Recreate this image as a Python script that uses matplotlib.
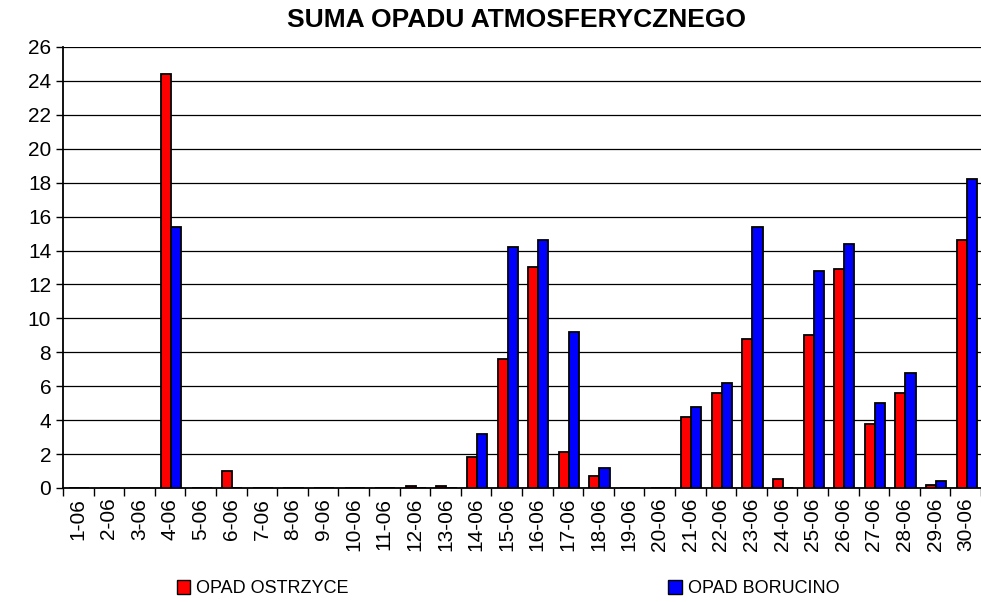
import numpy as np
import matplotlib.pyplot as plt
from matplotlib.patches import Patch

plt.rcParams['font.family'] = ['Liberation Sans', 'DejaVu Sans']

days = ['%d-06' % d for d in range(1, 31)]
ostrzyce = [0, 0, 0, 24.4, 0, 1.0, 0, 0, 0, 0, 0, 0.1, 0.1, 1.8, 7.6,
            13.0, 2.1, 0.7, 0, 0, 4.2, 5.6, 8.8, 0.5, 9.0, 12.9, 3.8, 5.6, 0.2, 14.6]
borucino = [0, 0, 0, 15.4, 0, 0, 0, 0, 0, 0, 0, 0, 0, 3.2, 14.2,
            14.6, 9.2, 1.2, 0, 0, 4.8, 6.2, 15.4, 0, 12.8, 14.4, 5.0, 6.8, 0.4, 18.2]

fig = plt.figure(figsize=(9.81, 6.02), dpi=100)
ax = fig.add_axes([0.0642, 0.1894, 0.9358, 0.7326])

x = np.arange(len(days))
w = 0.33
ax.bar(x - w / 2 + 0.03, ostrzyce, w, color='#ff0000', edgecolor='black', linewidth=1.3, zorder=3)
ax.bar(x + w / 2 + 0.03, borucino, w, color='#0000ff', edgecolor='black', linewidth=1.3, zorder=3)

ax.set_xlim(-0.5, len(days) - 0.5)
ax.set_ylim(0, 26)
ax.set_yticks(range(0, 27, 2))
ax.tick_params(axis='y', labelsize=15, length=5, width=1)
ax.set_xticks(x)
ax.set_xticklabels(days, rotation=90, fontsize=15)
ax.set_xticks(np.arange(-0.5, len(days), 1), minor=True)
ax.tick_params(axis='x', which='major', length=0, pad=7)
ax.tick_params(axis='x', which='minor', length=6, width=1)
ax.grid(axis='y', color='black', linewidth=0.9, zorder=0)

for s in ['top', 'right']:
    ax.spines[s].set_visible(False)
for s in ['left', 'bottom']:
    ax.spines[s].set_linewidth(1.3)

fig.text(0.526, 0.966, 'SUMA OPADU ATMOSFERYCZNEGO', ha='center', va='center',
         fontsize=19, fontweight='bold')

labels = ['OPAD OSTRZYCE', 'OPAD BORUCINO']
colors = ['#ff0000', '#0000ff']
for lab, col, xpos in zip(labels, colors, [0.180, 0.681]):
    leg = fig.legend([Patch(facecolor=col, edgecolor='black')], [lab], loc='center left',
                     bbox_to_anchor=(xpos, 0.022), frameon=False, fontsize=13,
                     handlelength=0.75, handleheight=0.75, handletextpad=0.35,
                     borderpad=0, borderaxespad=0)

fig.savefig('out.png', dpi=100)
